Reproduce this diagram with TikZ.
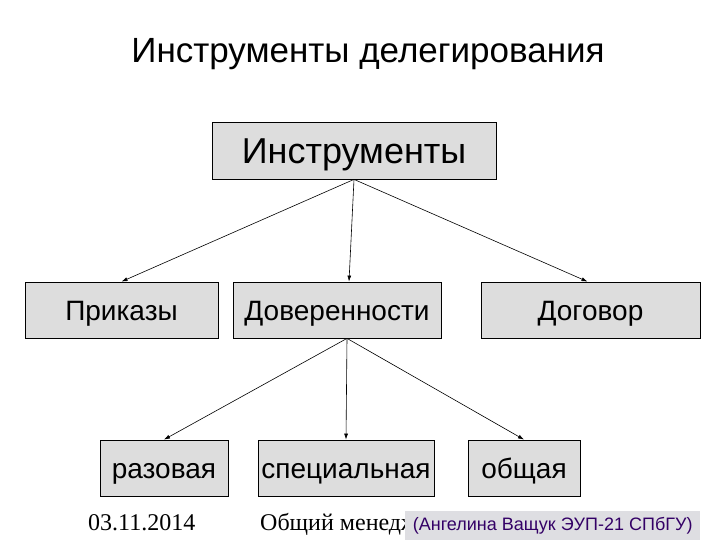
\documentclass[tikz,border=0pt]{standalone}
\usepackage{fontspec}
\setmainfont{Liberation Sans}
\newfontfamily\footserif{Liberation Serif}
\usetikzlibrary{arrows.meta}
\definecolor{boxgray}{RGB}{221,221,221}
\definecolor{notegray}{RGB}{222,222,226}
\definecolor{notetext}{RGB}{51,0,102}

\begin{document}
\begin{tikzpicture}[x=1pt, y=-1pt,
  every node/.style = {inner sep=0pt},
  box/.style = {shape=rectangle, draw, fill=boxgray, line width=0.8pt,
    minimum height=56pt, text height=20pt, text depth=0pt,
    font=\fontsize{28}{32}\selectfont},
  link/.style = {-{Latex[length=6pt,width=4pt]}, line width=0.6pt}]
  \useasboundingbox (0,0) rectangle (720,540);
  \node[font=\fontsize{35}{40}\selectfont, text height=25pt, text depth=0pt]
    (title) at (368,50) {Инструменты делегирования};
  % top level
  \node[box, minimum width=284pt, minimum height=57pt, text height=26pt,
    font=\fontsize{36}{40}\selectfont] (instr) at (354,150.5) {Инструменты};
  % second level
  \node[box, minimum width=193pt] (prik) at (121.5,310) {Приказы};
  \node[box, minimum width=208pt] (dov) at (337,310) {Доверенности};
  \node[box, minimum width=219pt] (dog) at (590.5,310) {Договор};
  % third level
  \node[box, minimum width=128pt] (raz) at (164,468) {разовая};
  \node[box, minimum width=176pt] (spec) at (346,468) {специальная};
  \node[box, minimum width=112pt] (obsh) at (524,468) {общая};
  \coordinate (from1) at (instr.south);
  \coordinate (from2) at ([xshift=10pt]dov.south);
  \draw[link] (from1) -- (prik.north);
  \draw[link] (from1) -- ([xshift=12pt]dov.north);
  \draw[link] (from1) -- ([xshift=-3pt]dog.north);
  \draw[link] (from2) -- (raz.north);
  \draw[link] (from2) -- (spec.north);
  \draw[link] (from2) -- (obsh.north);
  % footer
  \node[font=\footserif\fontsize{24}{28}\selectfont, anchor=base west] (date) at (88,530) {03.11.2014};
  \node[font=\footserif\fontsize{24}{28}\selectfont, anchor=base west] (course) at (260,530) {Общий менеджмент};
  \node[fill=notegray, minimum width=295pt, minimum height=30pt, anchor=north west,
    text=notetext, font=\fontsize{18}{21}\selectfont] (author) at (405,511)
    {(Ангелина Ващук ЭУП-21 СПбГУ)};
\end{tikzpicture}
\end{document}
